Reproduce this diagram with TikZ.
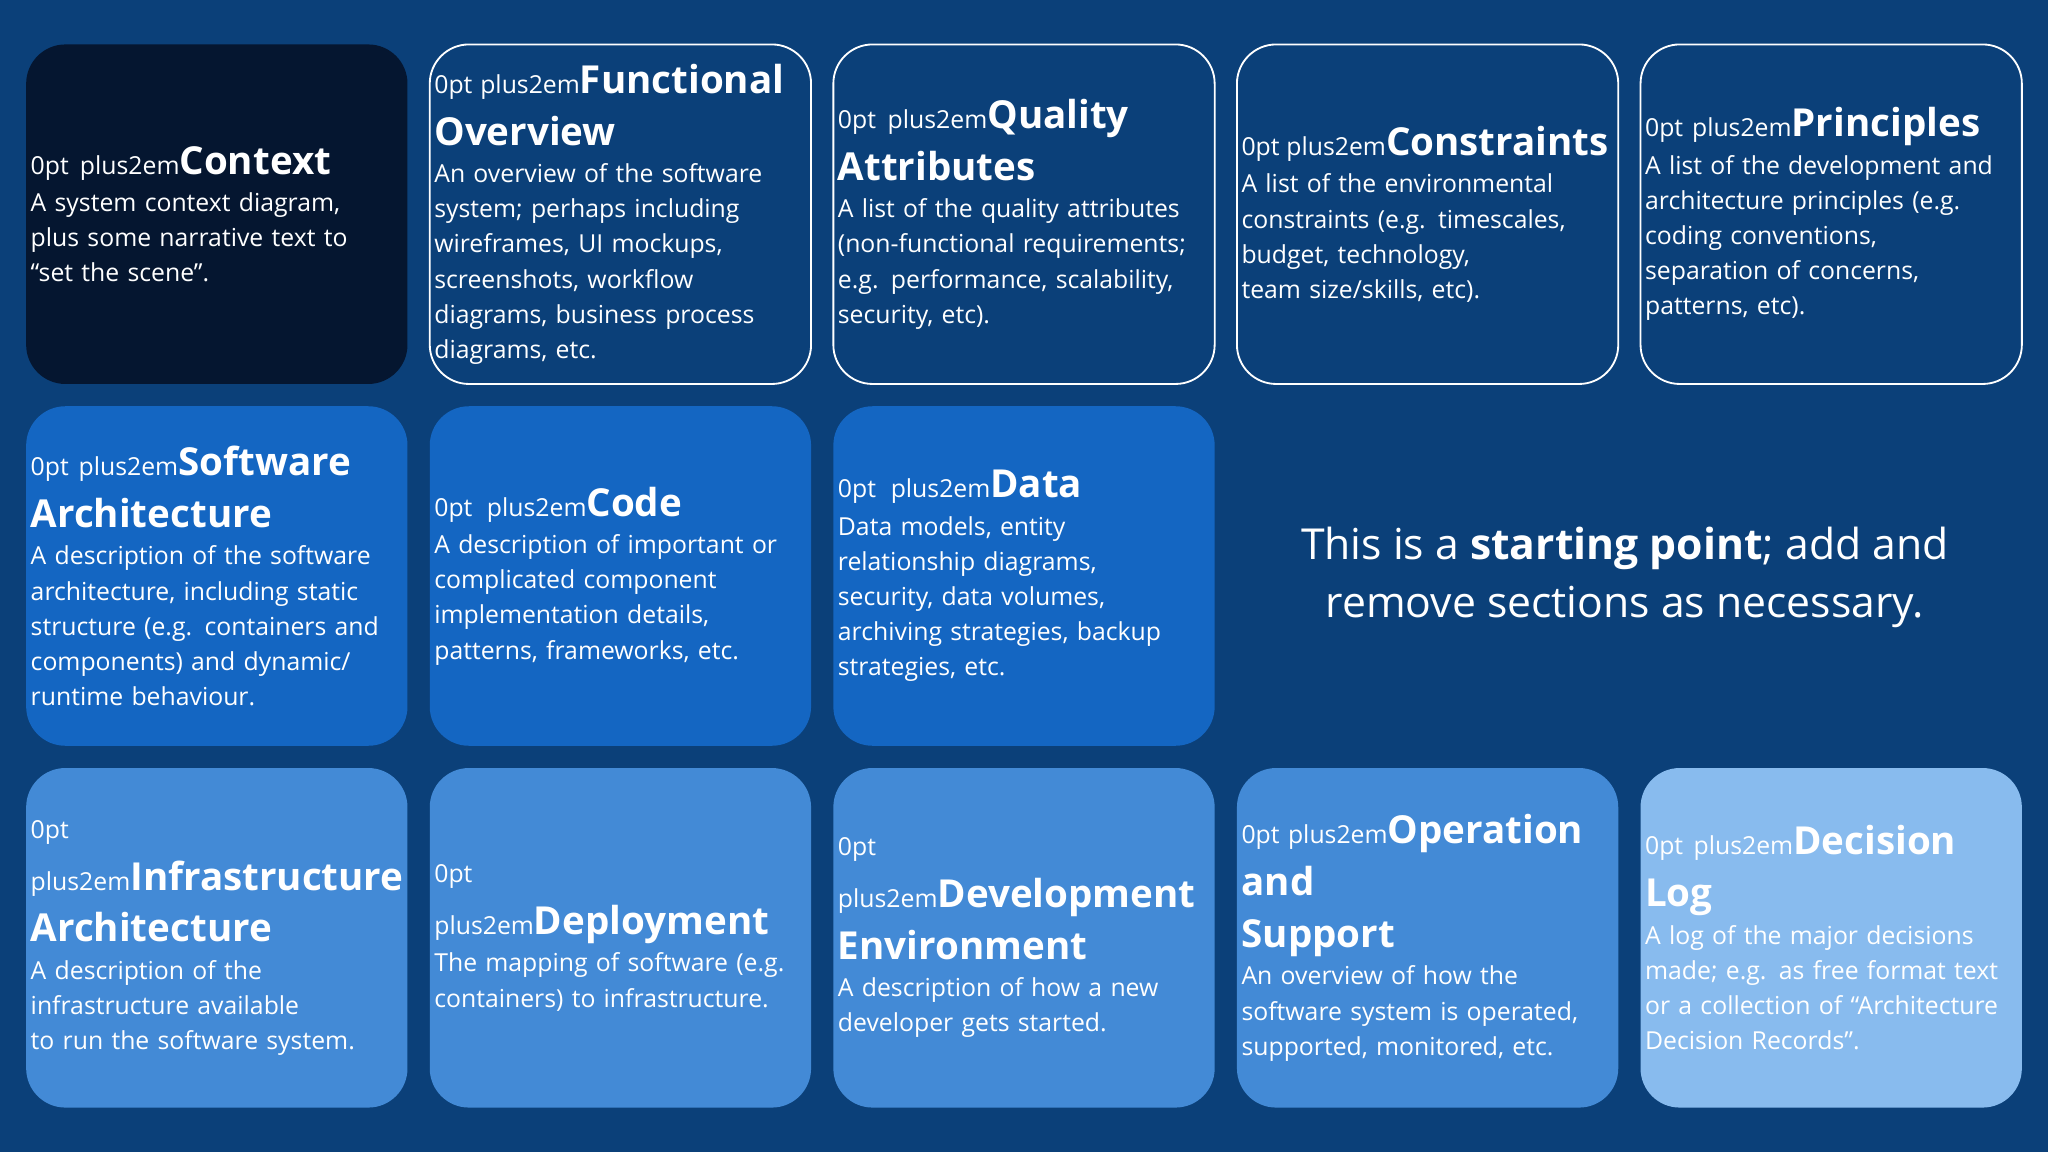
\documentclass[tikz,border=0pt]{standalone}
\usepackage{fontspec}
\setmainfont{Open Sans}
\definecolor{bg}{HTML}{0B4079}
\definecolor{ctx}{HTML}{051630}
\definecolor{midb}{HTML}{1466C2}
\definecolor{lightb}{HTML}{438AD6}
\definecolor{palest}{HTML}{88BBEE}
\tikzset{
 card/.style={rounded corners=0.6cm, minimum width=5.84cm, minimum height=5.2cm, text width=5.7cm, align=center, text=white, inner sep=0pt, font=\fontsize{10.8}{15.3}\selectfont\hyphenpenalty=10000 },
 outlined/.style={card, draw=white, line width=0.8pt, fill=bg},
}
\newcommand{\ttl}[1]{{\fontsize{16.8}{22.6}\selectfont\bfseries #1\par}\vspace{1pt}}
\begin{document}
\begin{tikzpicture}[x=0.02cm,y=-0.02cm]
\fill[bg] (0,0) rectangle (1568,882);
\useasboundingbox (0,0) rectangle (1568,882);
% row 1
\node[card, fill=ctx] (ctx) at (166,164) {\ttl{Context}A system context diagram,\\ plus some narrative text to\\ “set the scene”.};
\node[outlined] (fo) at (475,164) {\ttl{Functional\\ Overview}An overview of the software\\ system; perhaps including\\ wireframes, UI mockups,\\ screenshots, workflow\\ diagrams, business process\\ diagrams, etc.};
\node[outlined] (qa) at (784,164) {\ttl{Quality Attributes}A list of the quality attributes\\ (non-functional requirements;\\ e.g. performance, scalability,\\ security, etc).};
\node[outlined] (con) at (1093,164) {\ttl{Constraints}A list of the environmental\\ constraints (e.g. timescales,\\ budget, technology,\\ team size/skills, etc).};
\node[outlined] (pr) at (1402,164) {\ttl{Principles}A list of the development and\\ architecture principles (e.g.\\ coding conventions,\\ separation of concerns,\\ patterns, etc).};
% row 2
\node[card, fill=midb] (sa) at (166,441) {\ttl{Software\\ Architecture}A description of the software\\ architecture, including static\\ structure (e.g. containers and\\ components) and dynamic/\\ runtime behaviour.};
\node[card, fill=midb] (code) at (475,441) {\ttl{Code}A description of important or\\ complicated component\\ implementation details,\\ patterns, frameworks, etc.};
\node[card, fill=midb] (data) at (784,441) {\ttl{Data}Data models, entity\\ relationship diagrams,\\ security, data volumes,\\ archiving strategies, backup\\ strategies, etc.};
\node[text=white, align=center, font=\fontsize{18.6}{25.5}\selectfont] (note) at (1244,442) {This is a \textbf{starting point}; add and\\ remove sections as necessary.};
% row 3
\node[card, fill=lightb] (ia) at (166,718) {\ttl{Infrastructure\\ Architecture}A description of the\\ infrastructure available\\ to run the software system.};
\node[card, fill=lightb] (dep) at (475,718) {\ttl{Deployment}The mapping of software (e.g.\\ containers) to infrastructure.};
\node[card, fill=lightb] (dev) at (784,718) {\ttl{Development\\ Environment}A description of how a new\\ developer gets started.};
\node[card, fill=lightb] (ops) at (1093,718) {\ttl{Operation and\\ Support}An overview of how the\\ software system is operated,\\ supported, monitored, etc.};
\node[card, fill=palest] (dl) at (1402,718) {\ttl{Decision Log}A log of the major decisions\\ made; e.g. as free format text\\ or a collection of “Architecture\\ Decision Records”.};
\end{tikzpicture}
\end{document}
